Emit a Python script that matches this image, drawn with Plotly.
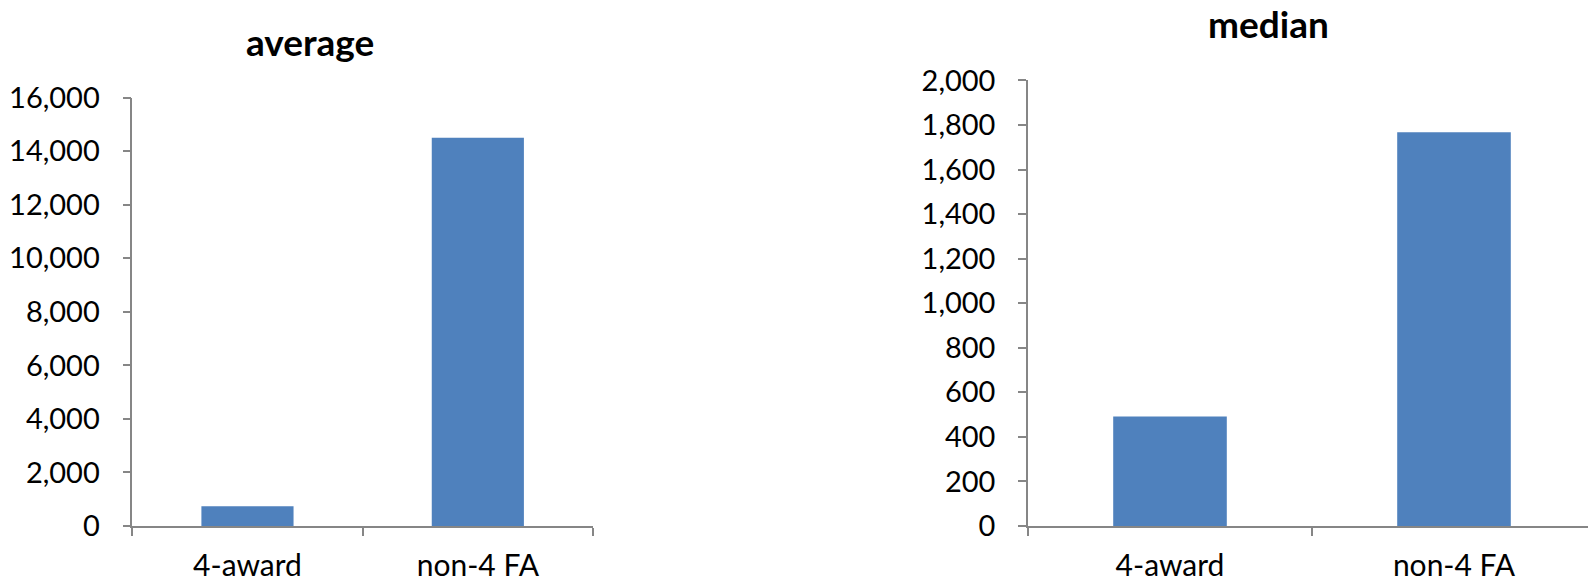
import plotly.graph_objects as go

categories = ["4-award", "non-4 FA"]
average_values = [740, 14500]
median_values = [492, 1767]
average_ticks = [0, 2000, 4000, 6000, 8000, 10000, 12000, 14000, 16000]
median_ticks = [0, 200, 400, 600, 800, 1000, 1200, 1400, 1600, 1800, 2000]

# page body has an 8px default margin: the figure is sized/positioned to compensate
OFF = 8
W, H = 1596 - OFF, 579 - OFF
BAR = "#4F81BD"
AXIS = "#868686"
FONT = "Lato"


def px(x):  # screen x -> paper fraction
    return (x - OFF) / W


def py(y):  # screen y (from top) -> paper fraction
    return (H - (y - OFF)) / H


fig = go.Figure()
fig.add_trace(go.Bar(x=categories, y=average_values, width=0.4, marker=dict(color=BAR, line=dict(width=0)),
                     xaxis="x", yaxis="y", showlegend=False))
fig.add_trace(go.Bar(x=categories, y=median_values, width=0.4, marker=dict(color=BAR, line=dict(width=0)),
                     xaxis="x2", yaxis="y2", showlegend=False))


def yax(ticks, domain, anchor):
    return dict(domain=domain, anchor=anchor, range=[0, ticks[-1]], tickvals=ticks, tickformat=",d",
                automargin=False,
                showgrid=False, zeroline=False, showline=True, linecolor=AXIS, linewidth=1.5,
                ticks="outside", ticklen=8, tickcolor=AXIS, tickwidth=1.5,
                tickfont=dict(family=FONT, size=29, color="#000"), ticklabelstandoff=17)


def xax(domain, anchor):
    return dict(domain=domain, anchor=anchor, range=[-0.5, 1.5], type="category",
                automargin=False,
                showgrid=False, zeroline=False, showline=True, linecolor=AXIS, linewidth=1.5,
                ticks="outside", ticklen=8, tickcolor=AXIS, tickwidth=1.5, tickson="boundaries",
                tickfont=dict(family=FONT, size=30, color="#000"), ticklabelstandoff=12)


fig.update_layout(
    width=W, height=H,
    margin=dict(l=0, r=0, t=0, b=0, pad=0),
    paper_bgcolor="white", plot_bgcolor="white",
    separators=".,",
    xaxis=xax([px(132.3), px(593)], "y"),
    yaxis=yax(average_ticks, [py(526), py(97.7)], "x"),
    xaxis2=xax([px(1028), 1.0], "y2"),
    yaxis2=yax(median_ticks, [py(526), py(80.4)], "x2"),
    annotations=[
        dict(text="<b>average</b>", x=px(309.5), y=py(42), xref="paper", yref="paper",
             xanchor="center", yanchor="middle", showarrow=False,
             font=dict(family=FONT, size=37, color="#000")),
        dict(text="<b>median</b>", x=px(1268.7), y=py(23), xref="paper", yref="paper",
             xanchor="center", yanchor="middle", showarrow=False,
             font=dict(family=FONT, size=37, color="#000")),
    ],
)

fig.write_html("out.html")
